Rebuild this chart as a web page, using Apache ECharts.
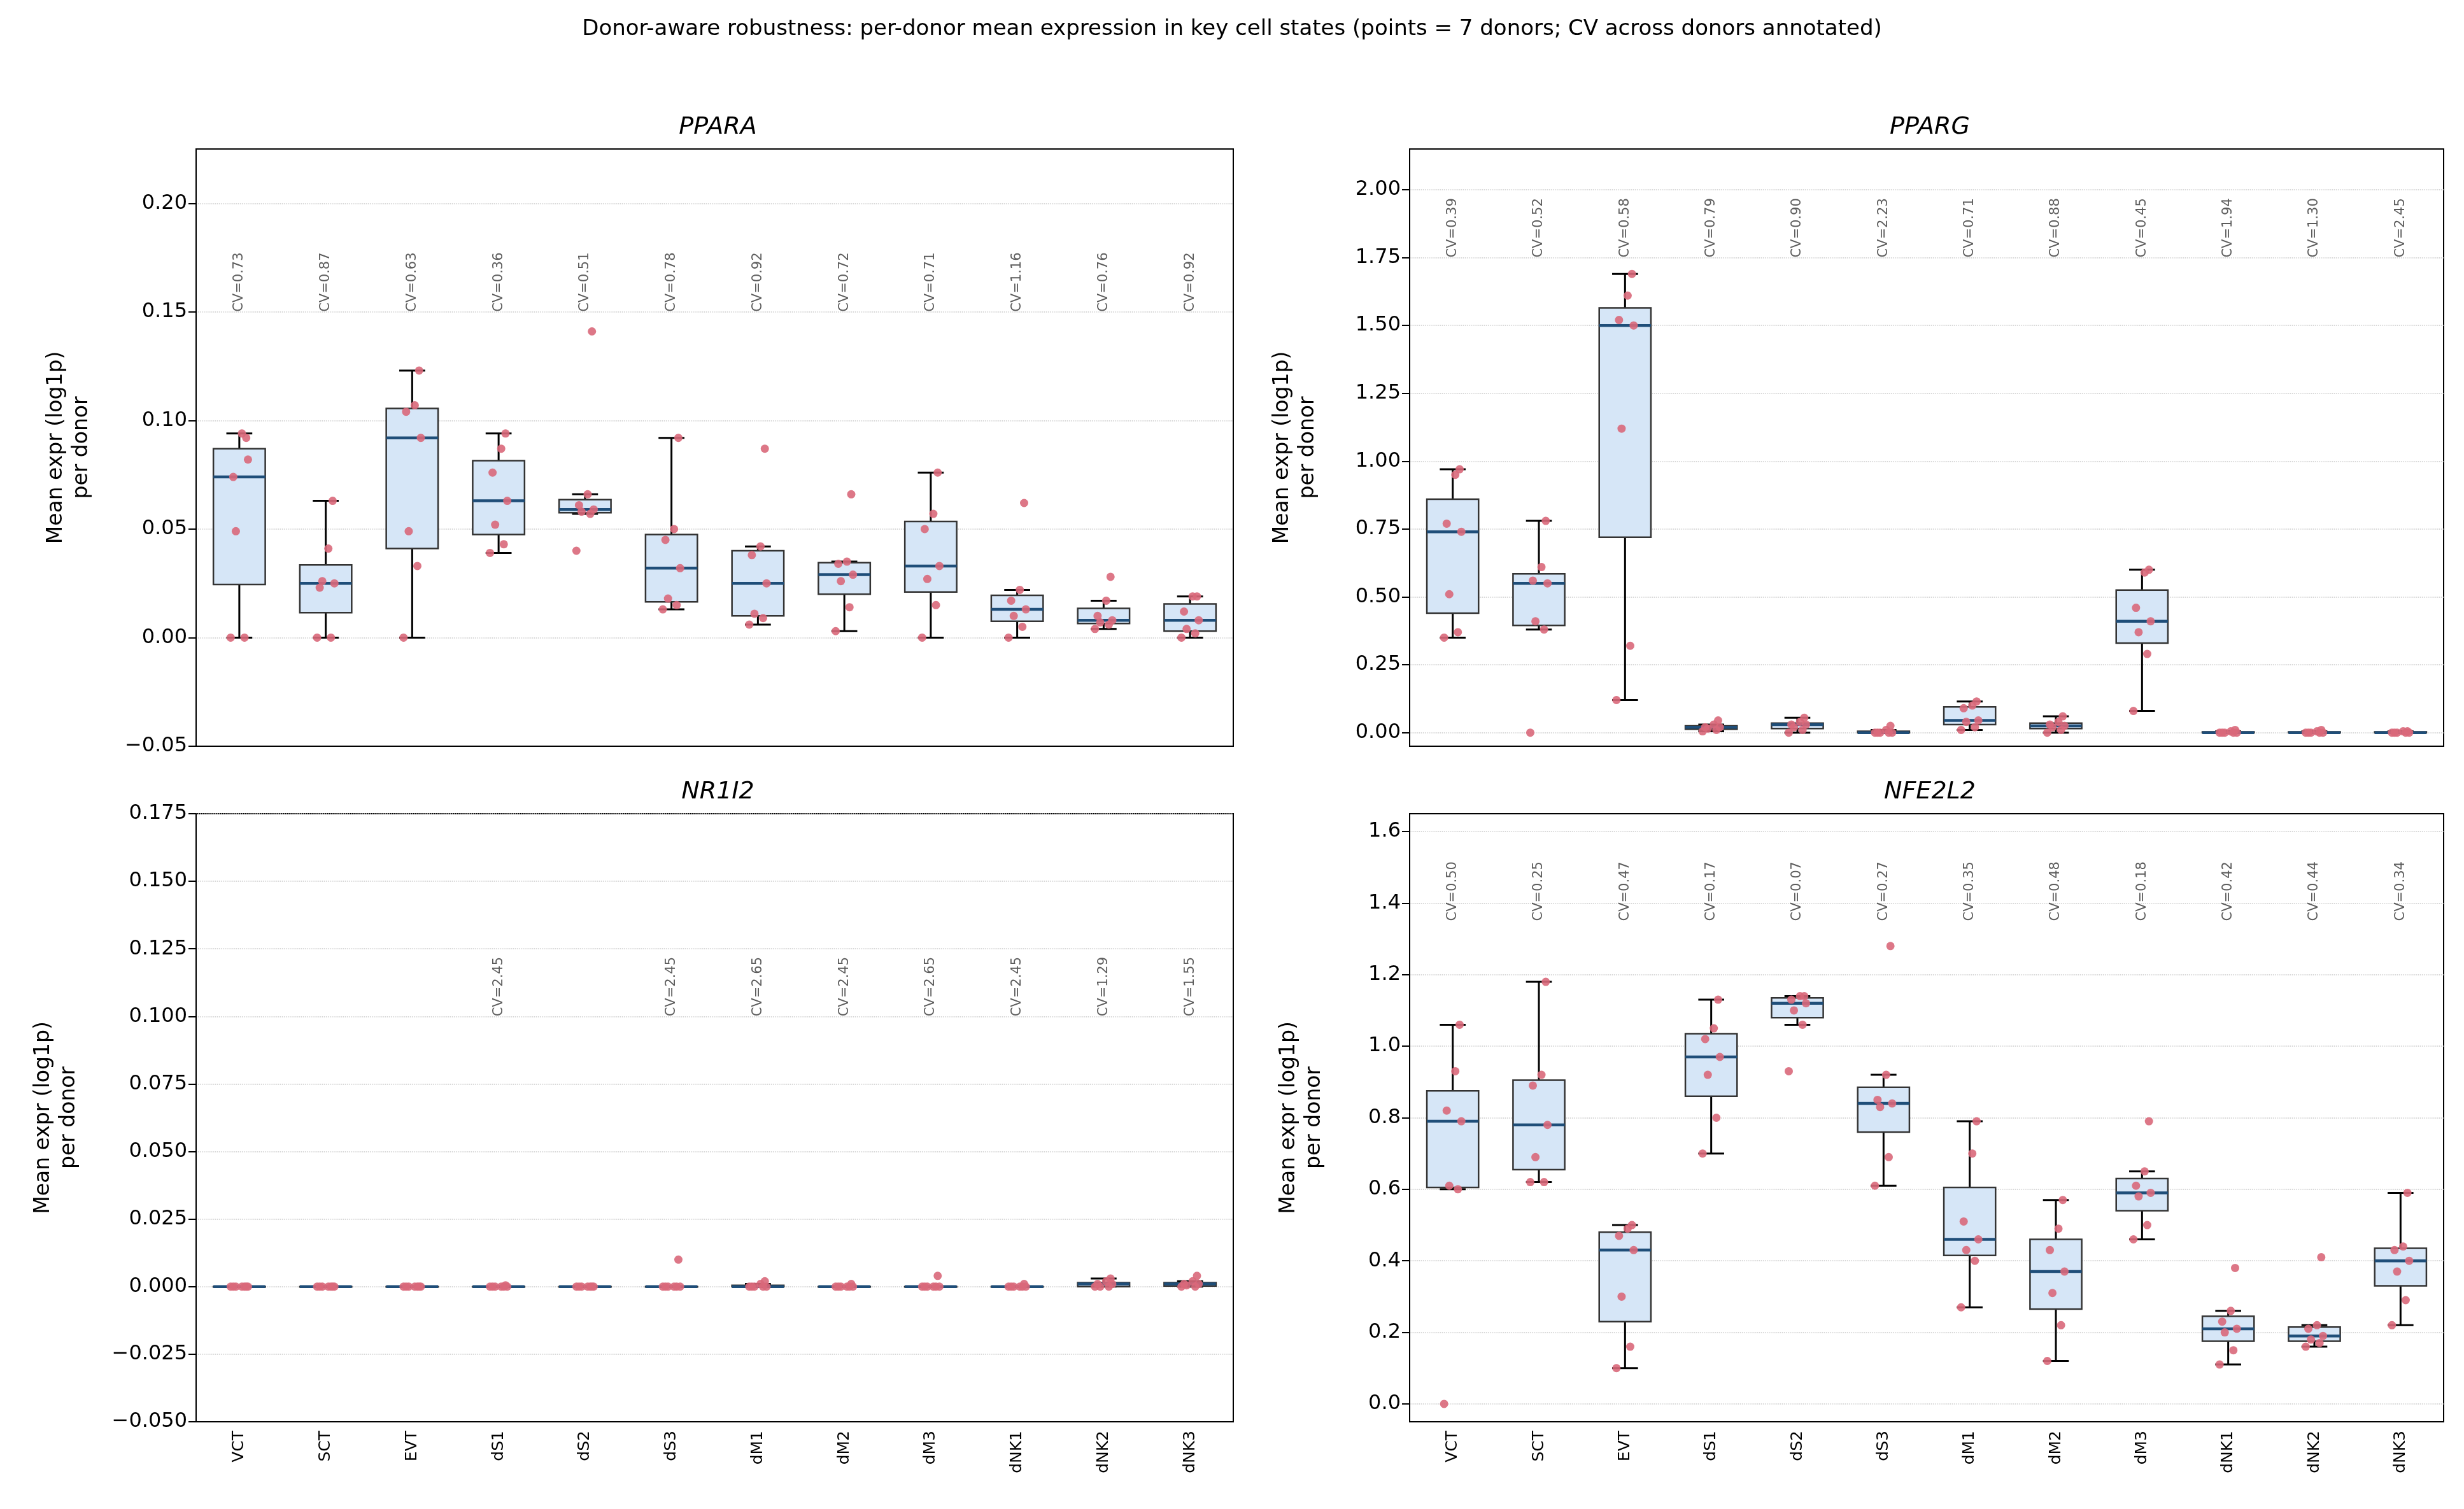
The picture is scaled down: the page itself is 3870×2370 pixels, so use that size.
<!DOCTYPE html>
<html>
<head>
<meta charset="utf-8">
<script src="https://cdn.jsdelivr.net/npm/echarts@6/dist/echarts.min.js"></script>
<style>html,body{margin:0;padding:0;background:#fff}#main{width:3870px;height:2370px}</style>
</head>
<body>
<div id="main"></div>
<script>
// cell states
var categories = ['VCT','SCT','EVT','dS1','dS2','dS3','dM1','dM2','dM3','dNK1','dNK2','dNK3'];
// x-jitter of the 7 donors (fraction of a category)
var jitter = [-0.1, 0.06, -0.04, 0.1, -0.07, 0.03, 0.08];

// per-donor means, 7 donors per cell state
var ppara = [
  [0,0,0.049,0.082,0.074,0.094,0.092],
  [0,0,0.026,0.025,0.023,0.041,0.063],
  [0,0.033,0.049,0.092,0.104,0.107,0.123],
  [0.039,0.043,0.052,0.063,0.076,0.087,0.094],
  [0.040,0.057,0.058,0.059,0.061,0.066,0.141],
  [0.013,0.015,0.018,0.032,0.045,0.050,0.092],
  [0.006,0.009,0.011,0.025,0.038,0.042,0.087],
  [0.003,0.014,0.026,0.029,0.034,0.035,0.066],
  [0,0.015,0.027,0.033,0.050,0.057,0.076],
  [0,0.005,0.010,0.013,0.017,0.022,0.062],
  [0.004,0.006,0.007,0.008,0.010,0.017,0.028],
  [0,0.002,0.004,0.008,0.012,0.019,0.019]
];
var pparg = [
  [0.35,0.37,0.51,0.74,0.77,0.95,0.97],
  [0,0.38,0.41,0.55,0.56,0.61,0.78],
  [0.12,0.32,1.12,1.50,1.52,1.61,1.69],
  [0.005,0.01,0.015,0.02,0.02,0.03,0.045],
  [0,0.01,0.02,0.03,0.03,0.04,0.055],
  [0,0,0,0,0,0.01,0.025],
  [0.01,0.02,0.04,0.045,0.09,0.1,0.115],
  [0,0.01,0.02,0.025,0.03,0.04,0.06],
  [0.08,0.29,0.37,0.41,0.46,0.59,0.60],
  [0,0,0,0,0,0.005,0.01],
  [0,0,0,0,0,0.005,0.01],
  [0,0,0,0,0,0.005,0.005]
];
var nr1i2 = [
  [0,0,0,0,0,0,0],
  [0,0,0,0,0,0,0],
  [0,0,0,0,0,0,0],
  [0,0,0,0,0,0,0.0005],
  [0,0,0,0,0,0,0],
  [0,0,0,0,0,0,0.010],
  [0,0,0,0,0,0.001,0.002],
  [0,0,0,0,0,0,0.001],
  [0,0,0,0,0,0,0.004],
  [0,0,0,0,0,0,0.001],
  [0,0,0,0.001,0.001,0.002,0.003],
  [0,0,0.0005,0.001,0.001,0.002,0.004]
];
var nfe2l2 = [
  [0,0.60,0.61,0.79,0.82,0.93,1.06],
  [0.62,0.62,0.69,0.78,0.89,0.92,1.18],
  [0.10,0.16,0.30,0.43,0.47,0.49,0.50],
  [0.70,0.80,0.92,0.97,1.02,1.05,1.13],
  [0.93,1.06,1.10,1.12,1.13,1.14,1.14],
  [0.61,0.69,0.83,0.84,0.85,0.92,1.28],
  [0.27,0.40,0.43,0.46,0.51,0.70,0.79],
  [0.12,0.22,0.31,0.37,0.43,0.49,0.57],
  [0.46,0.50,0.58,0.59,0.61,0.65,0.79],
  [0.11,0.15,0.20,0.21,0.23,0.26,0.38],
  [0.16,0.17,0.18,0.19,0.21,0.22,0.41],
  [0.22,0.29,0.37,0.40,0.43,0.44,0.59]
];

// CV labels
var cvPPARA = ['0.73','0.87','0.63','0.36','0.51','0.78','0.92','0.72','0.71','1.16','0.76','0.92'];
var cvPPARG = ['0.39','0.52','0.58','0.79','0.90','2.23','0.71','0.88','0.45','1.94','1.30','2.45'];
var cvNR1I2 = ['','','','2.45','','2.45','2.65','2.45','2.65','2.45','1.29','1.55'];
var cvNFE2L2 = ['0.50','0.25','0.47','0.17','0.07','0.27','0.35','0.48','0.18','0.42','0.44','0.34'];

// y tick values
var ticksPPARA = [-0.05, 0, 0.05, 0.10, 0.15, 0.20];
var ticksPPARG = [0, 0.25, 0.5, 0.75, 1.0, 1.25, 1.5, 1.75, 2.0];
var ticksNR1I2 = [-0.05, -0.025, 0, 0.025, 0.05, 0.075, 0.1, 0.125, 0.15, 0.175];
var ticksNFE2L2 = [0, 0.2, 0.4, 0.6, 0.8, 1.0, 1.2, 1.4, 1.6];

var panels = [
  {gene:'PPARA', data:ppara, cv:cvPPARA, cvY:0.15, min:-0.05, max:0.225, ticks:ticksPPARA, dec:2, left:308, top:234, bottom:1172, gap:160},
  {gene:'PPARG', data:pparg, cv:cvPPARG, cvY:1.75, min:-0.05, max:2.15, ticks:ticksPPARG, dec:2, left:2214, top:234, bottom:1172, gap:140},
  {gene:'NR1I2', data:nr1i2, cv:cvNR1I2, cvY:0.10, min:-0.05, max:0.175, ticks:ticksNR1I2, dec:3, left:308, top:1278, bottom:2233, gap:180},
  {gene:'NFE2L2', data:nfe2l2, cv:cvNFE2L2, cvY:1.35, min:-0.05, max:1.65, ticks:ticksNFE2L2, dec:1, left:2214, top:1278, bottom:2233, gap:130}
];
var rights = [1937, 3838];

function quantile(s, p) {
  var pos = (s.length - 1) * p, lo = Math.floor(pos), hi = Math.ceil(pos);
  return s[lo] + (s[hi] - s[lo]) * (pos - lo);
}
function boxStats(arr) {
  var s = arr.slice().sort(function (a, b) { return a - b; });
  var q1 = quantile(s, 0.25), med = quantile(s, 0.5), q3 = quantile(s, 0.75);
  var iqr = q3 - q1, lo = q1 - 1.5 * iqr, hi = q3 + 1.5 * iqr;
  var wl = s.filter(function (v) { return v >= lo; })[0];
  var wh = s.filter(function (v) { return v <= hi; }).pop();
  return [wl, q1, med, q3, wh];
}

var option = {
  animation: false,
  backgroundColor: '#fff',
  title: [{
    text: 'Donor-aware robustness: per-donor mean expression in key cell states (points = 7 donors; CV across donors annotated)',
    left: 'center', top: 24,
    textStyle: {fontFamily: 'DejaVu Sans', fontWeight: 'normal', fontSize: 34, color: '#000'}
  }],
  grid: [], xAxis: [], yAxis: [], series: []
};

panels.forEach(function (p, k) {
  var right = 3870 - rights[k % 2];
  var isBottom = k >= 2;
  option.grid.push({left: p.left, right: right, top: p.top, height: p.bottom - p.top,
    show: true, borderColor: '#000', borderWidth: 2, backgroundColor: 'transparent'});
  option.title.push({text: p.gene, left: (p.left + rights[k % 2]) / 2, top: p.top - 58, textAlign: 'center',
    textStyle: {fontFamily: 'DejaVu Sans', fontStyle: 'italic', fontWeight: 'normal', fontSize: 38, color: '#000'}});
  option.xAxis.push({type: 'category', gridIndex: k, data: categories,
    axisLine: {onZero: false, lineStyle: {color: '#000', width: 2}},
    axisTick: {alignWithLabel: true, length: 12, lineStyle: {color: '#000', width: 2}},
    axisLabel: {show: isBottom, rotate: 90, fontFamily: 'DejaVu Sans', fontSize: 25, color: '#000', margin: 14}});
  option.xAxis.push({type: 'value', gridIndex: k, min: -0.5, max: 11.5, show: false,
    axisLine: {show: false, onZero: false}, splitLine: {show: false}});
  option.yAxis.push({type: 'value', gridIndex: k, min: p.min, max: p.max,
    name: 'Mean expr (log1p)\nper donor', nameLocation: 'middle', nameGap: p.gap,
    nameTextStyle: {fontFamily: 'DejaVu Sans', fontSize: 33, color: '#000', lineHeight: 40},
    axisLine: {show: true, onZero: false, lineStyle: {color: '#000', width: 2}},
    axisTick: {show: true, length: 12, customValues: p.ticks, lineStyle: {color: '#000', width: 2}},
    axisLabel: {fontFamily: 'DejaVu Sans', fontSize: 32, color: '#000', margin: 14, customValues: p.ticks,
      formatter: function (v) { var t = v.toFixed(p.dec); return t.charAt(0) === '-' ? '\u2212' + t.slice(1) : t; }},
    splitLine: {show: true, lineStyle: {color: '#ccc', type: 'dotted', width: 1.5}}});

  var stats = p.data.map(boxStats);
  option.series.push({
    type: 'custom', xAxisIndex: 2 * k + 1, yAxisIndex: k, z: 2,
    data: stats.map(function (s, i) { return [i].concat(s); }),
    encode: {x: 0, y: [1, 2, 3, 4, 5]},
    renderItem: function (params, api) {
      var i = api.value(0);
      var lo = api.coord([i, api.value(1)]), q1 = api.coord([i, api.value(2)]),
          md = api.coord([i, api.value(3)]), q3 = api.coord([i, api.value(4)]),
          hi = api.coord([i, api.value(5)]);
      var w = api.size([0.6, 0])[0], cw = api.size([0.3, 0])[0];
      var x = lo[0];
      var ls = {stroke: '#000', lineWidth: 3};
      return {type: 'group', children: [
        {type: 'line', shape: {x1: x, y1: q1[1], x2: x, y2: lo[1]}, style: ls},
        {type: 'line', shape: {x1: x, y1: q3[1], x2: x, y2: hi[1]}, style: ls},
        {type: 'line', shape: {x1: x - cw / 2, y1: lo[1], x2: x + cw / 2, y2: lo[1]}, style: ls},
        {type: 'line', shape: {x1: x - cw / 2, y1: hi[1], x2: x + cw / 2, y2: hi[1]}, style: ls},
        {type: 'rect', shape: {x: x - w / 2, y: q3[1], width: w, height: Math.max(q1[1] - q3[1], 0.5)},
          style: {fill: '#d6e6f7', stroke: '#333', lineWidth: 2.5}},
        {type: 'line', shape: {x1: x - w / 2, y1: md[1], x2: x + w / 2, y2: md[1]}, style: {stroke: '#1f4e79', lineWidth: 4.5}}
      ]};
    }
  });

  var pts = [];
  p.data.forEach(function (arr, i) {
    arr.forEach(function (v, j) { pts.push([i + jitter[j], v]); });
  });
  option.series.push({type: 'scatter', xAxisIndex: 2 * k + 1, yAxisIndex: k, z: 5, data: pts,
    symbolSize: 13, itemStyle: {color: '#d9687a', opacity: 0.9}});

  option.series.push({type: 'scatter', xAxisIndex: 2 * k + 1, yAxisIndex: k, z: 6, symbolSize: 0,
    data: p.cv.map(function (c, i) { return {value: [i, p.cvY], cv: c}; }),
    label: {show: true, position: [0, 0], rotate: 90, align: 'left', verticalAlign: 'middle',
      fontFamily: 'DejaVu Sans', fontSize: 21, color: '#333',
      formatter: function (d) { return d.data.cv ? 'CV=' + d.data.cv : ''; }}});
});

var chart = echarts.init(document.getElementById('main'));
chart.setOption(option);
</script>
</body>
</html>
